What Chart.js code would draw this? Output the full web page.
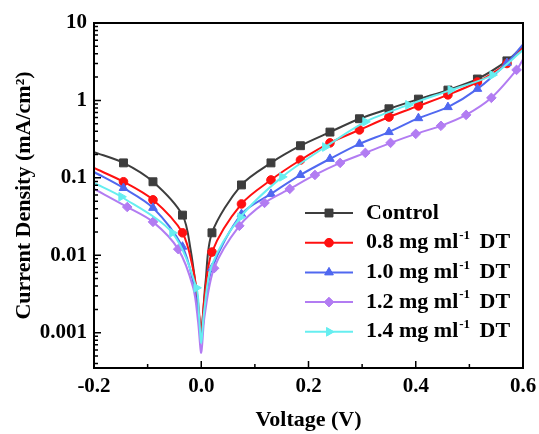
<!DOCTYPE html>
<html>
<head>
<meta charset="utf-8">
<script src="https://cdn.jsdelivr.net/npm/chart.js@4.4.1/dist/chart.umd.min.js"></script>
<style>
html, body { margin: 0; padding: 0; background: #fff; }
#wrap { width: 539px; height: 434px; }
</style>
</head>
<body>
<div id="wrap"><canvas id="jv" width="539" height="434"></canvas></div>
<script>
const serif = "'Liberation Serif', 'Times New Roman', serif";

const xTicks = [-0.2, 0, 0.2, 0.4, 0.6];
const yTicks = [0.001, 0.01, 0.1, 1, 10];

// Control
const ctrlV = [-0.2, -0.145, -0.09, -0.035, -0.02, -0.008, 0, 0.008, 0.02, 0.075, 0.13, 0.185, 0.24, 0.295, 0.35, 0.405, 0.46, 0.515, 0.57, 0.6];
const ctrlJ = [0.215, 0.156, 0.089, 0.033, 0.012, 0.003, 0.0011, 0.0045, 0.0195, 0.081, 0.156, 0.26, 0.39, 0.58, 0.78, 1.04, 1.36, 1.89, 3.24, 5.0];
const ctrlMarks = [1, 2, 3, 8, 9, 10, 11, 12, 13, 14, 15, 16, 17, 18];

// 0.8 mg/ml DT
const dt08V = [-0.2, -0.145, -0.09, -0.035, -0.015, -0.006, 0, 0.006, 0.02, 0.075, 0.13, 0.185, 0.24, 0.295, 0.35, 0.405, 0.46, 0.515, 0.57, 0.6];
const dt08J = [0.134, 0.089, 0.052, 0.0195, 0.0065, 0.0025, 0.001, 0.0028, 0.011, 0.046, 0.094, 0.17, 0.283, 0.416, 0.61, 0.85, 1.18, 1.73, 3.0, 4.8];
const dt08Marks = [1, 2, 3, 8, 9, 10, 11, 12, 13, 14, 15, 16, 17, 18];

// 1.0 mg/ml DT
const dt10V = [-0.2, -0.145, -0.09, -0.035, -0.015, -0.006, 0, 0.006, 0.02, 0.075, 0.13, 0.185, 0.24, 0.295, 0.35, 0.405, 0.46, 0.515, 0.57, 0.6];
const dt10J = [0.119, 0.074, 0.041, 0.0129, 0.0045, 0.0018, 0.0008, 0.0019, 0.0068, 0.034, 0.062, 0.109, 0.176, 0.275, 0.39, 0.59, 0.82, 1.41, 3.05, 5.3];
const dt10Marks = [1, 2, 3, 8, 9, 10, 11, 12, 13, 14, 15, 16, 17, 18];

// 1.2 mg/ml DT
const dt12V = [-0.2, -0.138, -0.09, -0.043, -0.015, -0.006, 0, 0.006, 0.024, 0.071, 0.118, 0.165, 0.212, 0.259, 0.306, 0.353, 0.4, 0.447, 0.494, 0.541, 0.588, 0.6];
const dt12J = [0.072, 0.042, 0.027, 0.012, 0.0038, 0.0014, 0.00055, 0.0016, 0.0068, 0.024, 0.0475, 0.072, 0.109, 0.156, 0.21, 0.283, 0.37, 0.47, 0.65, 1.08, 2.48, 3.4];
const dt12Marks = [1, 2, 3, 8, 9, 10, 11, 12, 13, 14, 15, 16, 17, 18, 19, 20];

// 1.4 mg/ml DT
const dt14V = [-0.2, -0.149, -0.054, -0.009, -0.004, 0, 0.005, 0.02, 0.073, 0.151, 0.231, 0.306, 0.386, 0.465, 0.543, 0.6];
const dt14J = [0.086, 0.057, 0.0195, 0.0038, 0.0016, 0.00074, 0.0018, 0.0075, 0.031, 0.103, 0.25, 0.53, 0.875, 1.36, 2.13, 4.5];
const dt14Marks = [1, 2, 3, 8, 9, 10, 11, 12, 13, 14];

const toPts = (vs, js) => vs.map((v, i) => ({x: v, y: js[i]}));

function series(label, vs, js, marks, color, style, r, rot, order) {
  return {
    label: label,
    data: toPts(vs, js),
    borderColor: color,
    backgroundColor: color,
    borderWidth: 2,
    tension: 0.3,
    pointStyle: style,
    pointRotation: rot,
    pointBorderWidth: 1,
    pointRadius: ctx => marks.includes(ctx.dataIndex) ? r : 0,
    markR: r,
    order: order
  };
}

const datasets = [
  series("Control", ctrlV, ctrlJ, ctrlMarks, "#3d3d3d", "rect", 5.6, 0, 5),
  series("0.8 mg ml\u207B\u00B9 DT", dt08V, dt08J, dt08Marks, "#ff1010", "circle", 4.3, 0, 4),
  series("1.0 mg ml\u207B\u00B9 DT", dt10V, dt10J, dt10Marks, "#5068f0", "triangle", 5, 0, 3),
  series("1.2 mg ml\u207B\u00B9 DT", dt12V, dt12J, dt12Marks, "#b27cf2", "rectRot", 4.8, 0, 2),
  series("1.4 mg ml\u207B\u00B9 DT", dt14V, dt14J, dt14Marks, "#66eef0", "triangle", 5, 90, 1)
];

// frame, inward ticks and legend
const frame = {
  id: "frame",
  afterDatasetsDraw(chart) {
    const {ctx, chartArea: a, scales: {x, y}} = chart;
    ctx.save();
    ctx.strokeStyle = "#000";
    ctx.lineWidth = 2;
    ctx.strokeRect(a.left, a.top, a.right - a.left, a.bottom - a.top);

    ctx.lineWidth = 1.5;
    ctx.beginPath();
    for (let k = -2; k <= 6; k++) {
      const px = x.getPixelForValue(k / 10);
      ctx.moveTo(px, a.bottom);
      ctx.lineTo(px, a.bottom - (k % 2 === 0 ? 7 : 4));
    }
    for (let e = -4; e <= 1; e++) {
      for (let m = 1; m <= 9; m++) {
        const v = m * Math.pow(10, e);
        if (v < y.min || v > y.max) continue;
        const py = y.getPixelForValue(v);
        ctx.moveTo(a.left, py);
        ctx.lineTo(a.left + (m === 1 ? 7 : 4), py);
      }
    }
    ctx.stroke();

    // legend
    const x0 = 305, x1 = 353, tx = 366;
    let ly = 213;
    chart.data.datasets.forEach(ds => {
      ctx.strokeStyle = ds.borderColor;
      ctx.lineWidth = 2;
      ctx.beginPath();
      ctx.moveTo(x0, ly);
      ctx.lineTo(x1, ly);
      ctx.stroke();
      ctx.fillStyle = ds.backgroundColor;
      ctx.lineWidth = 1;
      Chart.helpers.drawPoint(ctx, {pointStyle: ds.pointStyle, rotation: ds.pointRotation, radius: ds.markR, borderWidth: 1}, (x0 + x1) / 2, ly);
      ctx.fill();

      ctx.fillStyle = "#000";
      ctx.textBaseline = "middle";
      ctx.textAlign = "left";
      const parts = ds.label.split("\u207B\u00B9");
      ctx.font = "bold 22px " + serif;
      ctx.fillText(parts[0], tx, ly);
      if (parts.length > 1) {
        let cx = tx + ctx.measureText(parts[0]).width + 1;
        ctx.font = "bold 13px " + serif;
        ctx.fillText("-1", cx, ly - 7);
        cx += ctx.measureText("-1").width + 4;
        ctx.font = "bold 22px " + serif;
        ctx.fillText(parts[1], cx, ly);
      }
      ly += 29.7;
    });
    ctx.restore();
  }
};

new Chart(document.getElementById("jv"), {
  type: "line",
  data: {datasets: datasets},
  options: {
    responsive: false,
    animation: false,
    devicePixelRatio: 1,
    layout: {padding: {top: 23, right: 16, left: 0, bottom: 0}},
    plugins: {legend: {display: false}, tooltip: {enabled: false}},
    scales: {
      x: {
        type: "linear",
        min: -0.2,
        max: 0.6,
        grid: {display: false, drawTicks: false},
        border: {display: false},
        afterBuildTicks: s => { s.ticks = xTicks.map(v => ({value: v})); },
        afterFit: s => { s.height = 66; s.paddingLeft = 0; s.paddingRight = 0; },
        ticks: {
          color: "#000",
          padding: 6,
          autoSkip: false,
          maxRotation: 0,
          font: {family: serif, size: 21, weight: "bold"},
          callback: v => v.toFixed(1)
        },
        title: {
          display: true,
          text: "Voltage (V)",
          color: "#000",
          font: {family: serif, size: 22, weight: "bold"},
          padding: {top: 0, bottom: 0}
        }
      },
      y: {
        type: "logarithmic",
        min: 0.00035,
        max: 10,
        grid: {display: false, drawTicks: false},
        border: {display: false},
        afterBuildTicks: s => { s.ticks = yTicks.map(v => ({value: v, major: true})); },
        afterFit: s => { s.width = 94; s.paddingTop = 0; s.paddingBottom = 0; },
        ticks: {
          color: "#000",
          padding: 7,
          autoSkip: false,
          font: {family: serif, size: 21, weight: "bold"},
          callback: v => String(v)
        },
        title: {
          display: true,
          text: "Current Density (mA/cm\u00B2)",
          color: "#000",
          font: {family: serif, size: 22, weight: "bold"},
          padding: {top: 11, bottom: 0}
        }
      }
    }
  },
  plugins: [frame]
});
</script>
</body>
</html>
